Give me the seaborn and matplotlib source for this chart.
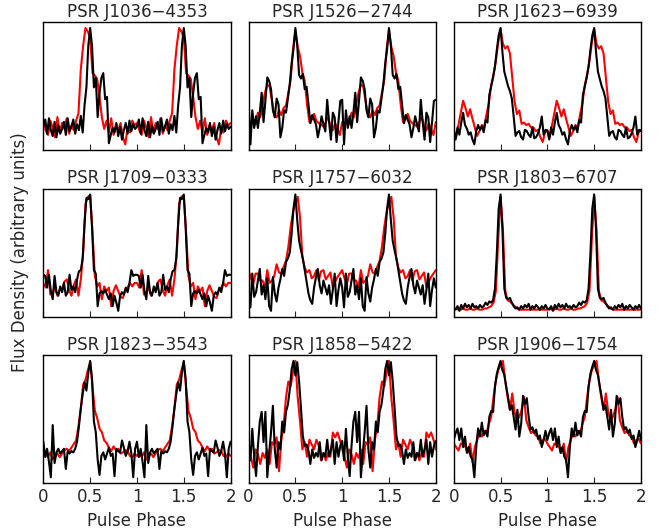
import numpy as np
import seaborn as sns
import matplotlib.pyplot as plt

# pulsar names, one panel each
names = ["PSR J1036\u22124353", "PSR J1526\u22122744", "PSR J1623\u22126939",
         "PSR J1709\u22120333", "PSR J1757\u22126032", "PSR J1803\u22126707",
         "PSR J1823\u22123543", "PSR J1858\u22125422", "PSR J1906\u22121754"]

# one period of each profile, peak = 100 (black: 50 bins, red: 40 bins)
black_1036 = [17, 23, 11, 24, 14, 9, 21, 8, 18, 11, 15, 21, 10, 24, 13, 17, 23, 11, 19, 14,
              26, 12, 35, 50, 85, 100, 85, 50, 58, 25, 45, 58, 62, 40, 42, 3, 10, 16, 12, 20,
              9, 17, 6, 14, 20, 11, 22, 13, 19, 15]
red_1036 = [20, 14, 10, 22, 16, 8, 25, 12, 20, 15, 24, 11, 18, 14, 22, 28, 65, 85, 100, 97,
            92, 62, 60, 57, 42, 25, 15, 22, 12, 24, 10, 18, 14, 20, 8, 2, 16, 12, 22, 18]

black_1526 = [39, 1, 30, 15, 25, 15, 28, 45, 20, 38, 58, 55, 48, 30, 24, 40, 35, 7, 15, 30,
              28, 40, 52, 70, 82, 100, 85, 60, 57, 61, 48, 50, 35, 19, 26, 22, 18, 7, 15, 25,
              18, 12, 39, 20, 5, 28, 24, 3, 20, 38]
red_1526 = [20, 17, 22, 18, 28, 24, 35, 45, 52, 50, 38, 26, 24, 30, 26, 32, 34, 45, 56, 82,
            98, 84, 76, 62, 55, 35, 20, 22, 27, 21, 19, 18, 16, 20, 24, 17, 13, 19, 14, 9]

black_1623 = [15, 8, 18, 12, 22, 30, 20, 17, 12, 14, 8, 4, 15, 20, 16, 19, 14, 24, 22, 45,
              52, 59, 68, 82, 94, 100, 80, 64, 58, 52, 48, 42, 27, 11, 14, 15, 10, 8, 16, 15,
              12, 10, 18, 9, 10, 13, 18, 27, 12, 16]
red_1623 = [16, 10, 20, 30, 40, 34, 27, 33, 25, 18, 11, 15, 20, 18, 29, 38, 53, 62, 73, 88,
            99, 87, 83, 85, 79, 59, 39, 29, 32, 21, 22, 20, 21, 18, 18, 15, 16, 10, 6, 14]

black_1709 = [31, 30, 20, 31, 17, 10, 30, 16, 13, 21, 16, 24, 13, 16, 31, 18, 21, 16, 27, 34,
              35, 45, 75, 97, 96, 100, 72, 35, 32, 4, 15, 17, 15, 18, 14, 10, 15, 4, 13, 7,
              0, 13, 16, 14, 20, 16, 24, 35, 30, 31]
red_1709 = [24, 20, 35, 14, 16, 20, 13, 18, 18, 25, 27, 18, 13, 22, 27, 13, 27, 50, 92, 98,
            99, 67, 30, 21, 24, 10, 21, 17, 20, 4, 17, 22, 17, 12, 11, 18, 20, 24, 21, 24]

black_1757 = [20, 3, 32, 12, 16, 26, 36, 14, 22, 10, 28, 4, 0, 29, 15, 8, 20, 27, 36, 30,
              42, 45, 50, 66, 88, 100, 78, 60, 52, 45, 35, 25, 15, 9, 6, 20, 29, 36, 22, 15,
              26, 20, 14, 22, 6, 18, 32, 4, 18, 28]
red_1757 = [35, 28, 23, 32, 32, 26, 26, 20, 35, 24, 26, 30, 40, 33, 32, 38, 43, 55, 72, 85,
            92, 98, 80, 46, 37, 33, 35, 28, 30, 35, 26, 34, 35, 27, 30, 33, 20, 25, 29, 32]

black_1803 = [3, 2, 5, 1, 6, 3, 7, 4, 6, 3, 7, 4, 5, 3, 6, 4, 5, 8, 6, 9,
              8, 10, 20, 50, 88, 100, 70, 20, 12, 11, 12, 8, 5, 3, 4, 2, 5, 3, 6, 4,
              7, 2, 5, 3, 6, 4, 2, 5, 3, 6]
red_1803 = [2, 3, 2, 2, 3, 2, 2, 3, 2, 2, 3, 2, 2, 3, 3, 4, 5, 8, 18, 62,
            98, 70, 18, 10, 9, 7, 5, 3, 2, 2, 2, 2, 2, 2, 2, 2, 2, 2, 2, 2]

black_1823 = [32, 19, 26, 15, 2, 46, 14, 23, 26, 22, 24, 26, 9, 24, 22, 24, 23, 26, 32, 45,
              60, 72, 82, 75, 90, 100, 85, 49, 40, 17, 4, 20, 23, 17, 22, 27, 20, 22, 3, 26,
              24, 23, 33, 27, 20, 24, 32, 22, 2, 26]
red_1823 = [20, 22, 19, 23, 17, 20, 22, 19, 22, 25, 26, 24, 27, 30, 33, 45, 60, 80, 84, 92,
            99, 78, 58, 52, 43, 40, 33, 31, 27, 24, 28, 25, 26, 22, 23, 25, 24, 20, 19, 22]

black_1858 = [33, 17, 43, 20, 4, 29, 49, 57, 32, 57, 3, 23, 40, 62, 26, 11, 32, 26, 49, 40,
              57, 63, 75, 92, 99, 87, 98, 82, 60, 37, 29, 30, 25, 14, 26, 19, 23, 20, 32, 17,
              23, 20, 34, 20, 26, 34, 14, 32, 20, 29]
red_1858 = [26, 20, 11, 26, 22, 14, 23, 19, 26, 14, 32, 30, 36, 8, 34, 46, 69, 82, 78, 90,
            99, 69, 49, 26, 32, 20, 34, 30, 26, 34, 29, 17, 23, 17, 23, 20, 40, 36, 40, 34]

black_1906 = [32, 38, 42, 32, 42, 26, 35, 21, 26, 18, 15, 0, 26, 42, 35, 47, 36, 40, 35, 52,
              57, 56, 78, 89, 95, 100, 92, 88, 78, 69, 58, 62, 52, 41, 58, 35, 46, 70, 63, 68,
              52, 41, 43, 38, 41, 33, 36, 26, 32, 40]
red_1906 = [29, 26, 23, 29, 28, 26, 21, 29, 13, 26, 32, 38, 35, 40, 38, 46, 52, 69, 83, 92,
            96, 100, 83, 69, 58, 72, 56, 49, 52, 58, 69, 49, 43, 38, 40, 36, 35, 29, 32, 33]

black_profiles = [black_1036, black_1526, black_1623, black_1709, black_1757,
                  black_1803, black_1823, black_1858, black_1906]
red_profiles = [red_1036, red_1526, red_1623, red_1709, red_1757,
                red_1803, red_1823, red_1858, red_1906]


def two_periods(profile):
    # show the profile twice over phase 0..2, closing at phase 2
    vals = np.array(profile, dtype=float) / 100.0
    n = len(vals)
    y = np.append(np.tile(vals, 2), vals[0])
    x = np.arange(2 * n + 1) / n
    return x, y


sns.set_style("white")
plt.rcParams['font.family'] = ['DejaVu Sans']
plt.rcParams['font.size'] = 12

fig, axes = plt.subplots(3, 3, figsize=(6.67, 5.28), dpi=100, sharex=True)
fig.subplots_adjust(left=0.065, right=0.961, top=0.958, bottom=0.085,
                    wspace=0.096, hspace=0.30)

for i, ax in enumerate(axes.flat):
    xr, yr = two_periods(red_profiles[i])
    xb, yb = two_periods(black_profiles[i])
    sns.lineplot(x=xr, y=yr, ax=ax, color='red', lw=1.5)
    sns.lineplot(x=xb, y=yb, ax=ax, color='black', lw=1.5)
    ax.set_xlim(0, 2)
    ax.set_yticks([])
    ax.set_xticks([0, 0.5, 1, 1.5, 2])
    ax.set_xticklabels(['0', '0.5', '1', '1.5', '2'])
    ax.tick_params(axis='x', direction='in', length=4, bottom=True, labelsize=12)
    ax.set_title(names[i], fontsize=12, pad=4)
    ax.set_ylabel('')
    for sp in ax.spines.values():
        sp.set_color('black')
        sp.set_linewidth(1)
    if i >= 6:
        ax.set_xlabel('Pulse Phase', fontsize=12)

fig.text(0.03, 0.523, 'Flux Density (arbitrary units)', rotation=90,
         va='center', ha='center', fontsize=12)

fig.savefig('out.png', dpi=100)
